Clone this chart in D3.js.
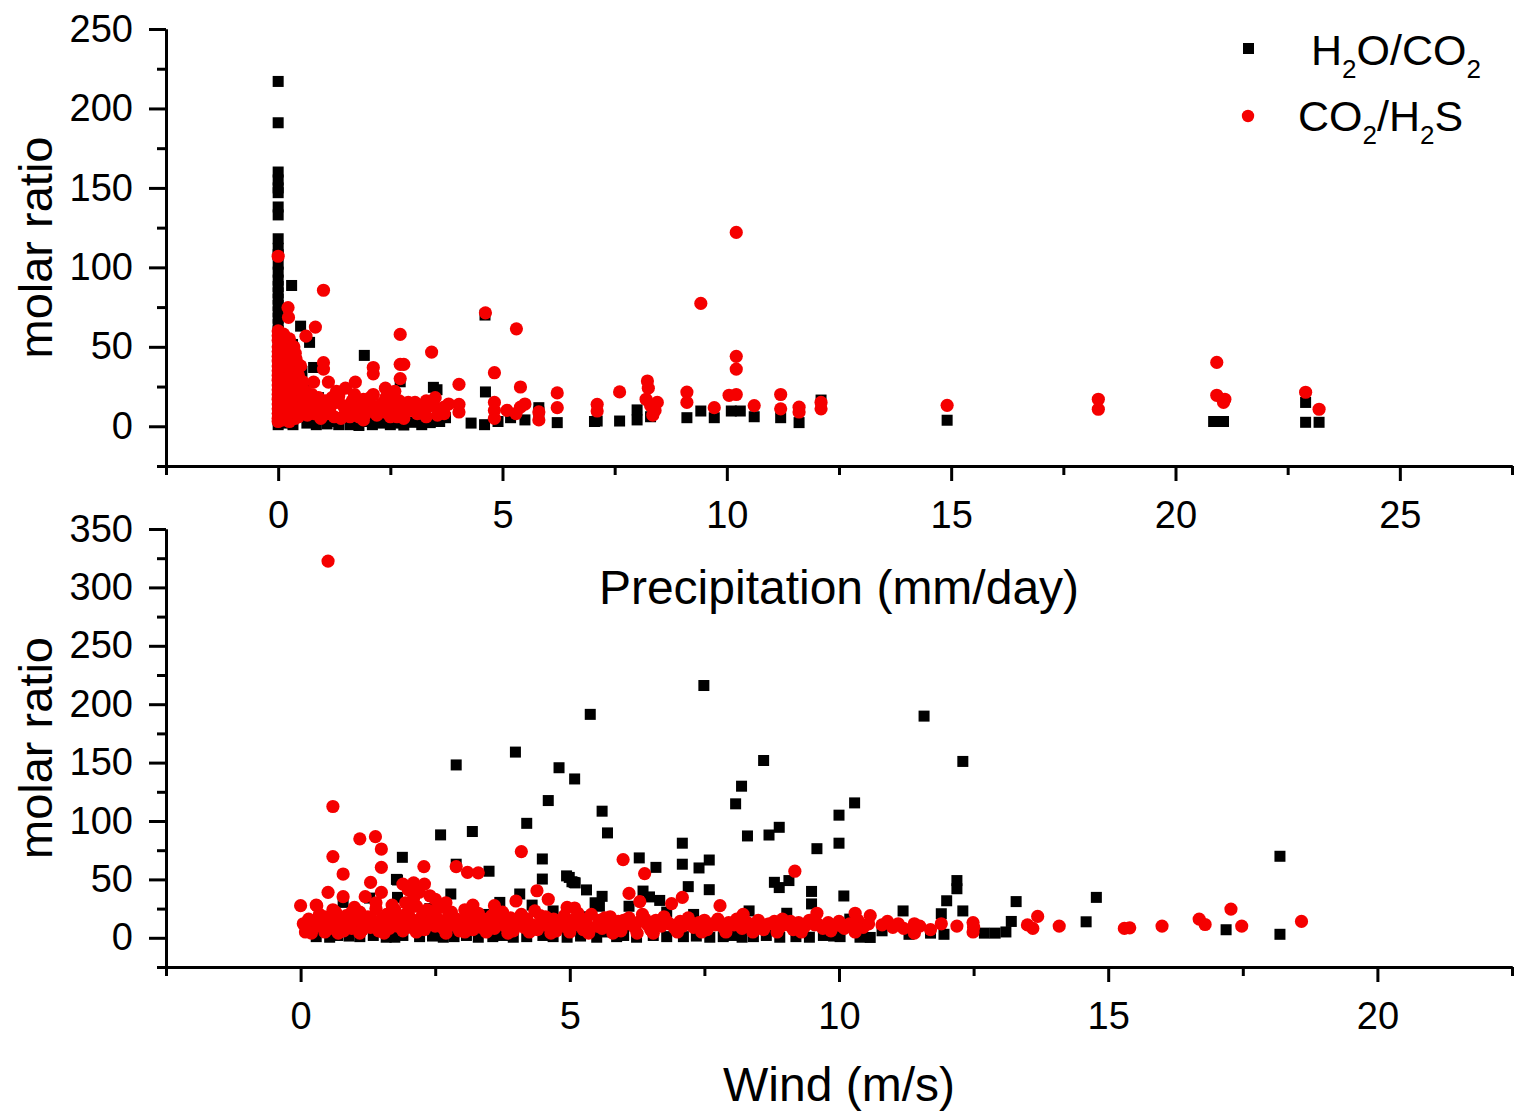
<!DOCTYPE html>
<html>
<head>
<meta charset="UTF-8"/>
<title>molar ratio vs precipitation and wind</title>
<script src="https://d3js.org/d3.v7.min.js"></script>
<style>
body { margin: 0; background: white; }
text { font-family: "Liberation Sans", Arial, sans-serif; fill: black; }
</style>
</head>
<body>
<div id="chart"></div>
<script>
// ---- DATA ----
// top panel: x = precipitation (mm/day), y = molar ratio
var precipH2O = [
  [0,217],[0,191],[0,160],[0,155],[0,150],[0,147],[0,138],[0,133],[0,118],[0,112],[0,108],[0,102],
  [0,97],[0,92],[0,88],[0,84],[0,80],[0,76],[0,72],[0,68],[0,64],[0,60],[0,56],[0,52],[0,48],[0,44],
  [0,40],[0,36],[0,32],[0,28],[0,24],[0,20],[0,16],[0,12],[0,8],[0,4],[0,1],
  [0.3,88.6],[0.5,63],[0.7,52.8],[0.32,51.5],[0.4,41],[0.79,37],[0.53,34.5],[0.3,30],[0.6,25],[0.45,20],
  [0.9,18],[0.2,15],[1.92,44.6],[2.72,28],[3.46,24.5],[3.54,23],[1.1,10],[1.3,3],[0.1,2],[0.33,1],[0.64,2],
  [1.09,1.5],[1.6,1],[1.98,3],[2.3,2],[2.5,1],[2.8,0.8],[3.0,2.5],[3.39,2.3],[3.73,5.4],[1.7,5],[2.2,8],
  [0.85,1],[1.35,1],[1.8,0.5],[2.1,1],[2.65,2],[3.2,1],[3.6,3],[4.3,2],[4.6,1],
  [4.62,21.6],[4.61,70],[5.18,5.4],[5.81,11.7],[5.81,9],[5.5,4],[4.9,3],[6.22,2.3],[7.05,3],[7.11,3.3],
  [7.61,3.3],[8.0,10.3],[8.0,4],[8.3,6],[9.11,5.4],[9.42,9.6],[9.72,5.4],[10.1,9.6],[10.3,9.6],[10.61,6],
  [11.2,5.4],[11.61,2.3],[12.1,16.5],[14.91,3.8],[20.85,3],[21.07,3],[22.9,15],[22.9,2.5],[23.2,2.5]
];
var precipCO2 = [
  [0,107],[0,60],[0,57],[0,54],[0,50],[0,47],[0,44],[0,41],[0,38],[0,35],[0,32],[0,29],[0,26],[0,23],
  [0,20],[0,17],[0,14],[0,11],[0,8],[0,5],[0,3],
  [0.12,58],[0.12,52],[0.12,46],[0.12,40],[0.12,34],[0.12,28],[0.12,22],[0.12,16],[0.12,10],[0.12,4],
  [0.25,55],[0.25,49],[0.25,43],[0.25,37],[0.25,31],[0.25,25],[0.25,19],[0.25,13],[0.25,7],[0.25,3],
  [0.38,46],[0.38,39],[0.38,33],[0.38,26],[0.38,19],[0.38,12],[0.38,5],
  [0.22,74.7],[0.23,68.5],[0.1,55],[0.15,48],[0.3,45],[0.2,40],[0.25,35],[0.1,30],[0.3,28],[0.35,22],
  [0.15,18],[0.4,15],[0.2,12],[0.3,8],[0.45,6],
  [1.01,85.6],[0.83,62.4],[0.62,56.7],[2.72,57.8],[3.42,46.7],[1.01,40],[1.01,36],[2.12,37],[2.12,33],
  [2.72,39],[2.8,39],[2.72,30],[1.72,27.8],[1.12,27.8],[0.79,27.8],[1.5,24],[2.39,24],[2.12,20],[0.6,22],
  [0.9,18],[1.3,15],[1.6,12],[1.9,17],[2.3,14],[2.6,10],[2.9,15],[3.2,12],[0.7,10],[1.1,8],[1.4,5],[1.8,6],
  [2.2,7],[2.5,12],[2.8,5],[3.1,8],[3.3,16],[3.6,11],[3.8,14],[3.5,18],
  [0.35,50],[0.4,42],[0.5,38],[0.45,32],[0.55,28],[0.6,18],[0.7,14],[0.5,10],[0.8,8],[1.0,12],[1.2,18],
  [1.3,22],[1.5,10],[1.6,6],[1.7,20],[2.0,10],[2.0,14],[2.4,18],[2.5,6],[2.7,16],[3.0,10],[3.3,6],[3.7,8],
  [1.9,4],[2.6,22],
  [0.55,13],[0.65,7],[0.75,20],[0.85,12],[0.95,5],[1.05,16],[1.15,11],[1.25,6],[1.35,19],[1.45,13],
  [1.55,8],[1.65,16],[1.75,10],[1.85,13],[1.95,8],[2.05,18],[2.15,12],[2.25,9],[2.35,15],[2.45,8],
  [2.55,15],[2.65,6],[2.75,12],[2.85,9],[2.95,12],[3.05,15],[3.15,9],[3.25,11],[3.4,13],[3.55,7],[3.7,12],
  [4.03,26.4],[4.03,13.8],[4.03,9],[4.62,71.4],[5.31,61.3],[4.82,33.7],[5.4,24.7],[4.82,15],[4.82,10],
  [4.82,5],[5.3,8],[5.4,12],[5.5,14],[5.1,10],[5.81,9],[5.81,4],[6.22,21],[6.22,11.7],[7.11,13.8],[7.11,9.6],
  [7.61,21.6],[8.23,28.5],[8.25,24],[8.2,17],[8.3,13],[8.4,10],[8.45,15],[8.35,7],[9.11,21.5],[9.11,15],
  [9.42,77.3],[9.72,11.7],[10.21,122],[10.21,44],[10.21,36],[10.21,20],[10.05,19.5],[10.61,13],[11.2,20],
  [11.2,11],[11.61,12],[11.61,9],[12.1,15],[12.1,11],[14.91,13.2],[18.28,17],[18.28,10.7],[20.92,40.2],
  [20.92,19.5],[21.07,15],[21.1,17],[22.9,21.4],[23.2,10.7]
];

// bottom panel: x = wind (m/s), y = molar ratio
var windH2O = [
  [7.49,216],[5.38,191.3],[11.58,189.8],[3.99,159],[8.6,151.8],[12.3,151],[2.89,148],[4.8,145.6],
  [5.09,136],[8.19,129.8],[4.6,117.5],[8.08,114.7],[10.29,115.5],[5.6,108.4],[10.0,105],[4.2,98],
  [8.89,94.6],[3.19,91],[5.7,89.8],[2.6,88.1],[8.7,88],[8.3,87.2],[7.09,81],[10.0,81],[9.59,76.3],
  [18.19,69.8],[1.89,68.9],[4.49,67.5],[6.29,68.4],[7.59,66.6],[7.09,63],[2.89,63],[6.6,60.3],[7.4,59.8],
  [3.5,57],[4.99,51.7],[4.49,50.3],[1.8,49.5],[9.07,49],[12.19,49],[8.8,47.5],[5.08,47.4],[7.2,43.8],
  [8.89,43],[12.19,42],[5.31,41],[7.59,41.2],[9.49,39.7],[2.79,37.5],[10.09,35.8],[5.6,35.5],[14.78,34.6],
  [1.8,34.6],[12.0,31.7],[13.29,31],[9.49,29],[5.5,28],[11.19,23],[12.3,23],[11.9,20.6],[14.59,13.7],
  [13.2,14],[17.19,6.9],[18.19,3],[12.7,4],[12.9,4],[13.1,5],[11.7,4],[11.95,3],
  [0.29,1],[0.54,0.5],[0.69,2],[1.1,1],[1.59,0.5],[1.9,2],[2.21,1],[2.65,0.5],[3.08,2],[3.57,1],[3.95,0.5],
  [4.5,2],[4.69,1],[5.87,1],[6.24,0.5],[6.55,2],[7.11,1],[7.6,0.5],[8.04,2],[8.41,1],[8.9,0.5],[9.71,2],
  [10.02,1],[10.39,0.5],[10.58,0.3],
  [0.9,1.5],[1.35,2],[1.75,0.5],[2.45,1.5],[2.85,1],[3.3,0.5],[3.75,2],[4.2,1],[4.95,0.5],[5.2,1.5],
  [5.5,0.5],[6.0,2],[6.8,1],[7.35,1.5],[7.85,1],[8.2,0.5],[8.65,2],[9.2,1],[9.45,0.5],[9.9,1.5],
  [0.5,8],[1.0,12],[1.5,6],[2.0,15],[2.4,25],[3.0,10],[3.4,20],[3.8,14],[4.3,28],[4.8,8],[5.2,18],[5.7,5],
  [6.2,12],[6.8,22],[7.3,20],[7.9,8],[8.33,23],[9.03,21],[9.4,12],[9.8,5],[10.2,16],[10.8,6],[11.3,3],
  [6.1,27],[5.55,27],[6.36,40],[6.48,35],[6.67,32],[3.7,30.3],[4.07,37.5],[0.79,30.3],[1.28,34],[4.69,23],
  [5.47,30],[5.1,47],[4.94,53],[5.04,48],[1.78,50]
];
var windCO2 = [
  [0.51,322.5],[0.6,112.4],[0.6,69.5],[1.1,84.7],[1.39,86.6],[1.5,76],[1.5,60.3],[1.5,38.9],[1.3,47.4],
  [1.2,35.2],[0.79,54.6],[0.51,38.9],[0.79,35.2],[0,27.5],[0.29,28],[0.09,12],[0.09,5],[2.29,61],[2.89,61],
  [3.1,56],[3.3,55.6],[4.1,73.8],[6.1,38],[6.3,31],[6.89,29.3],[7.09,34.6],[4.39,40.3],[4.6,33],[4.0,31.5],
  [3.6,27.5],[7.79,27.5],[8.22,20],[9.18,57],[10.3,21],[9.59,21],[5.99,67],[6.39,55],[1.9,46],[2.1,47],
  [2.3,46],[2.0,41],[2.2,39],[2.4,36],[2.5,33],[2.1,34],[1.95,30],[0.3,27.5],[4.95,26],[5.09,25.5],
  [10.58,19],[0.6,24],[1.0,26],[1.7,28],[2.7,30],[3.2,28],[1.4,30],
  [0.05,12],[0.1,6],[0.15,16],[0.25,9],[0.3,14],[0.35,20],[0.4,11],[0.45,5],[0.5,17],[0.55,8],[0.6,13],
  [0.65,22],[0.7,10],[0.75,15],[0.8,6],[0.85,19],[0.9,12],[0.95,8],
  [1.0,16],[1.05,11],[1.1,22],[1.15,7],[1.2,14],[1.25,18],[1.3,9],[1.35,13],[1.4,25],[1.45,6],[1.5,16],
  [1.55,11],[1.6,20],[1.65,8],[1.7,14],[1.75,24],[1.8,10],[1.85,17],[1.9,6],[1.95,13],
  [2.0,21],[2.05,9],[2.1,15],[2.15,27],[2.2,11],[2.25,18],[2.3,7],[2.35,24],[2.4,14],[2.45,20],[2.5,10],
  [2.55,16],[2.6,26],[2.65,8],[2.7,13],[2.75,19],[2.8,22],[2.85,11],[2.9,16],[2.95,6],
  [3.0,14],[3.05,24],[3.1,10],[3.15,18],[3.2,7],[3.25,13],[3.3,21],[3.35,9],[3.4,16],[3.5,12],[3.55,19],
  [3.6,8],[3.7,15],[3.75,22],[3.8,10],[3.9,17],[3.95,6],
  [4.0,13],[4.1,20],[4.15,9],[4.2,16],[4.3,11],[4.35,23],[4.4,7],[4.5,14],[4.55,18],[4.6,10],[4.7,16],
  [4.75,6],[4.8,12],[4.9,19],[4.95,9],
  [5.05,15],[5.1,11],[5.2,17],[5.25,7],[5.3,13],[5.4,20],[5.5,10],[5.55,15],[5.6,8],[5.7,13],[5.75,18],
  [5.85,10],[5.9,14],[5.95,6],
  [6.05,12],[6.1,17],[6.2,9],[6.3,14],[6.35,20],[6.45,11],[6.5,7],[6.6,15],[6.7,10],[6.75,18],[6.85,12],[6.95,8],
  [7.05,14],[7.1,10],[7.2,17],[7.3,9],[7.4,13],[7.5,15],[7.55,7],[7.65,12],[7.75,16],[7.85,9],[7.95,13],
  [8.05,11],[8.1,16],[8.2,8],[8.3,13],[8.45,10],[8.5,15],[8.6,7],[8.7,12],[8.8,14],[8.9,9],[8.95,16],
  [9.05,11],[9.15,7],[9.25,13],[9.35,9],[9.45,15],[9.55,11],[9.7,8],[9.8,13],[9.9,10],[10.0,14],[10.1,8],
  [10.2,12],[10.35,15],[10.45,9],[10.55,12],
  // second pass through the dense band
  [0.2,4],[0.45,18],[0.7,4],[0.95,22],[1.1,4],[1.3,17],[1.55,4],[1.75,15],[1.95,20],[2.15,5],[2.3,12],
  [2.5,23],[2.7,4],[2.85,17],[3.05,5],[3.25,18],[3.45,5],[3.65,20],[3.85,4],[4.05,17],[4.25,5],[4.45,19],
  [4.65,4],[4.85,15],[5.0,5],[5.15,21],[5.35,4],[5.65,17],[5.8,4],[6.0,15],[6.25,4],[6.4,16],[6.55,4],
  [6.8,14],[7.0,5],[7.25,13],[7.45,5],[7.7,11],[7.9,5],[8.15,12],[8.4,5],[8.65,11],[8.85,5],[9.1,14],
  [9.3,5],[9.6,12],[9.85,6],[10.05,10],[10.3,5],
  [10.8,11],[10.9,14],[11.0,9],[11.1,12],[11.2,8],[11.4,12],[11.4,4],[11.5,10],[11.7,7],[11.9,12],
  [12.19,10],[12.49,13],[12.49,5],[12.5,9],
  [13.5,11],[13.6,8],[13.69,18.3],[14.09,10],[15.3,8],[15.4,8.5],[16.0,10],[16.69,16],[16.8,11.4],
  [17.28,24.6],[17.48,10],[18.59,14]
];

var precipTicks = [0, 5, 10, 15, 20, 25];
var precipMinor = [-2.5, 2.5, 7.5, 12.5, 17.5, 22.5, 27.5];
var windTicks = [0, 5, 10, 15, 20];
var windMinor = [-2.5, 2.5, 7.5, 12.5, 17.5, 22.5];
var ratioTicksTop = [0, 50, 100, 150, 200, 250];
var ratioMinorTop = [-25, 25, 75, 125, 175, 225];
var ratioTicksBottom = [0, 50, 100, 150, 200, 250, 300, 350];
var ratioMinorBottom = [-25, 25, 75, 125, 175, 225, 275, 325];

// ---- DRAWING ----
var width = 1517, height = 1120;
var left = 166, right = 1512;

var svg = d3.select("#chart").append("svg")
    .attr("width", width)
    .attr("height", height);

function drawPanel(p) {
    var x = d3.scaleLinear().domain(p.xDomain).range([left, right]);
    var y = d3.scaleLinear().domain(p.yDomain).range([p.bottom, p.top]);
    var g = svg.append("g");

    // minor ticks
    g.append("g")
        .attr("transform", "translate(0," + p.bottom + ")")
        .call(d3.axisBottom(x).tickValues(p.xMinor).tickSize(9).tickSizeOuter(0).tickFormat(""))
        .call(styleAxis);
    g.append("g")
        .attr("transform", "translate(" + left + ",0)")
        .call(d3.axisLeft(y).tickValues(p.yMinor).tickSize(9).tickSizeOuter(0).tickFormat(""))
        .call(styleAxis);

    // major ticks + labels
    g.append("g")
        .attr("transform", "translate(0," + p.bottom + ")")
        .call(d3.axisBottom(x).tickValues(p.xTicks).tickSize(15).tickSizeOuter(0).tickPadding(20))
        .call(styleAxis);
    g.append("g")
        .attr("transform", "translate(" + left + ",0)")
        .call(d3.axisLeft(y).tickValues(p.yTicks).tickSize(17).tickSizeOuter(0).tickPadding(16))
        .call(styleAxis);

    // axis titles
    g.append("text")
        .attr("x", (left + right) / 2)
        .attr("y", p.titleY)
        .attr("text-anchor", "middle")
        .style("font-size", "48px")
        .text(p.xTitle);
    g.append("text")
        .attr("transform", "translate(52," + (p.top + p.bottom) / 2 + ") rotate(-90)")
        .attr("text-anchor", "middle")
        .style("font-size", "47px")
        .text("molar ratio");

    // markers: squares first, circles on top
    g.append("g").selectAll("rect")
        .data(p.water)
        .enter().append("rect")
        .attr("x", function(d) { return x(d[0]) - 5.5; })
        .attr("y", function(d) { return y(d[1]) - 5.5; })
        .attr("width", 11)
        .attr("height", 11)
        .attr("fill", "black");
    g.append("g").selectAll("circle")
        .data(p.sulfur)
        .enter().append("circle")
        .attr("cx", function(d) { return x(d[0]); })
        .attr("cy", function(d) { return y(d[1]); })
        .attr("r", 6.6)
        .attr("fill", "#f50000");
}

function styleAxis(sel) {
    sel.select(".domain").attr("stroke-width", 3);
    sel.selectAll(".tick line").attr("stroke-width", 3);
    sel.selectAll(".tick text")
        .style("font-family", "'Liberation Sans', Arial, sans-serif")
        .style("font-size", "38px")
        .attr("fill", "black");
}

drawPanel({
    top: 29, bottom: 466,
    xDomain: [-2.5, 27.5], yDomain: [-25, 250],
    xTicks: precipTicks, xMinor: precipMinor,
    yTicks: ratioTicksTop, yMinor: ratioMinorTop,
    xTitle: "Precipitation (mm/day)", titleY: 604,
    water: precipH2O, sulfur: precipCO2
});

drawPanel({
    top: 529, bottom: 967,
    xDomain: [-2.5, 22.5], yDomain: [-25, 350],
    xTicks: windTicks, xMinor: windMinor,
    yTicks: ratioTicksBottom, yMinor: ratioMinorBottom,
    xTitle: "Wind (m/s)", titleY: 1101,
    water: windH2O, sulfur: windCO2
});

// legend
var legend = svg.append("g");
legend.append("rect")
    .attr("x", 1243).attr("y", 43).attr("width", 11).attr("height", 11)
    .attr("fill", "black");
legend.append("circle")
    .attr("cx", 1248).attr("cy", 116).attr("r", 6.2)
    .attr("fill", "#f50000");

var t1 = legend.append("text").attr("x", 1311).attr("y", 65).style("font-size", "43px");
t1.append("tspan").text("H");
t1.append("tspan").attr("dy", 13).style("font-size", "26px").text("2");
t1.append("tspan").attr("dy", -13).text("O/CO");
t1.append("tspan").attr("dy", 13).style("font-size", "26px").text("2");

var t2 = legend.append("text").attr("x", 1298).attr("y", 131).style("font-size", "43px");
t2.append("tspan").text("CO");
t2.append("tspan").attr("dy", 13).style("font-size", "26px").text("2");
t2.append("tspan").attr("dy", -13).text("/H");
t2.append("tspan").attr("dy", 13).style("font-size", "26px").text("2");
t2.append("tspan").attr("dy", -13).text("S");
</script>
</body>
</html>
